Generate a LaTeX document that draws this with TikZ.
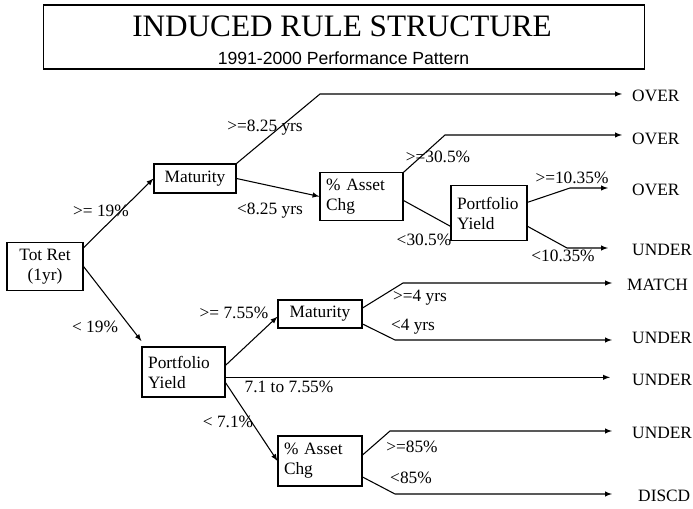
\documentclass[tikz,border=0pt]{standalone}
\usepackage{fontspec}
\setmainfont{Liberation Serif}
\setsansfont{Liberation Sans}
\usetikzlibrary{arrows, positioning, calc}

\tikzset{
  rulebox/.style={draw, line width=0.8pt, inner sep=4.5pt, align=left},
  cond/.style={inner sep=0pt},
  leaf/.style={anchor=west, inner sep=2pt},
  branch/.style={draw, line width=0.8pt, -latex},
}

\begin{document}
\begin{tikzpicture}[x=0.75pt, y=-0.75pt, font=\fontsize{13}{15}\selectfont]
\useasboundingbox (0,0) rectangle (693,509);
% title
\node [draw, line width=0.8pt, minimum width=451pt, minimum height=48pt] (titlebox) at (344,37) {};
\node [inner sep=0pt, font=\fontsize{23.4}{28}\selectfont] (head) at (342,26) {INDUCED RULE STRUCTURE};
\node [inner sep=0pt, font=\sffamily\fontsize{13.2}{15}\selectfont] (sub) at (343.5,58) {1991-2000 Performance Pattern};
% decision boxes
\node [rulebox, align=center, minimum width=57pt, minimum height=35pt] (totret) at (45,266.5) {Tot Ret\\(1yr)};
\node [rulebox, minimum width=61.5pt, minimum height=21.75pt] (mat1) at (195,178.5) {Maturity};
\node [rulebox, minimum width=62.25pt, minimum height=30.75pt, text width=53pt] (asset1) at (361.5,196.5) {\% Asset\\Chg};
\node [rulebox, minimum width=57pt, minimum height=41pt, text width=48pt] (yield1) at (489,213) {Portfolio\\Yield};
\node [rulebox, minimum width=62.25pt, minimum height=37.5pt, text width=53pt] (yield2) at (183.5,372) {Portfolio\\Yield};
\node [rulebox, minimum width=63pt, minimum height=21pt] (mat2) at (320,314) {Maturity};
\node [rulebox, minimum width=63pt, minimum height=37.5pt, text width=54pt] (asset2) at (320,461) {\% Asset\\Chg};
% outcomes
\node [leaf] (over1) at (629.3,96) {OVER};
\node [leaf] (over2) at (629.3,139) {OVER};
\node [leaf] (over3) at (629.3,190) {OVER};
\node [leaf] (under1) at (629.3,250) {UNDER};
\node [leaf] (match) at (624.3,285) {MATCH};
\node [leaf] (under2) at (629.3,338) {UNDER};
\node [leaf] (under3) at (629.3,380) {UNDER};
\node [leaf] (under4) at (629.3,433) {UNDER};
\node [leaf] (discd) at (635.3,496) {DISCD};
% bends
\coordinate (b1) at (320,94);
\coordinate (b2) at (445,135);
\coordinate (b3) at (570,188);
\coordinate (b4) at (567,248);
\coordinate (b5) at (403,283);
\coordinate (b6) at (395,340);
\coordinate (b7) at (390,431);
\coordinate (b8) at (395,494);
\coordinate (y2r) at ([yshift=-4pt]yield2.east);
% branches
\draw [branch] ([yshift=-4pt]totret.north east) -- (mat1.west);
\draw [branch] (totret.east) -- ([yshift=4pt]yield2.north west);
\draw [branch, shorten >=5.5pt] (mat1.north east) -- (b1) -- (b1 -| over1.west);
\draw [branch] (mat1.east) -- (asset1.west);
\draw [branch, shorten >=5.5pt] (asset1.north east) -- (b2) -- (b2 -| over2.west);
\draw [line width=0.8pt] ([yshift=-3pt]asset1.east) -- ([yshift=-10pt]yield1.west);
\draw [branch, shorten >=16pt] ([yshift=8pt]yield1.east) -- (b3) -- (b3 -| over3.west);
\draw [branch, shorten >=16pt] ([yshift=-10pt]yield1.east) -- (b4) -- (b4 -| under1.west);
\draw [branch] ([yshift=5pt]yield2.east) -- ([yshift=-2pt]mat2.west);
\draw [branch, shorten >=14.5pt] (y2r) -- (y2r -| under3.west);
\draw [branch] ([yshift=-8pt]yield2.east) -- (asset2.west);
\draw [branch, shorten >=9.2pt] ([yshift=4.5pt]mat2.east) -- (b5) -- (b5 -| match.west);
\draw [branch, shorten >=13pt] ([yshift=-7.5pt]mat2.east) -- (b6) -- (b6 -| under2.west);
\draw [branch, shorten >=13pt] ([yshift=4.5pt]asset2.east) -- (b7) -- (b7 -| under4.west);
\draw [branch, shorten >=17.5pt] ([yshift=-12pt]asset2.east) -- (b8) -- (b8 -| discd.west);
% conditions
\node [cond] (ge19) at (101,211) {>= 19\%};
\node [cond] (lt19) at (95,327) {< 19\%};
\node [cond] (ge825) at (265,128) {>=8.25 yrs};
\node [cond] (lt825) at (270,211) {<8.25 yrs};
\node [cond] (ge305) at (438,157) {>=30.5\%};
\node [cond] (lt305) at (424,240) {<30.5\%};
\node [cond] (ge1035) at (572,178) {>=10.35\%};
\node [cond] (lt1035) at (563,256) {<10.35\%};
\node [cond] (ge755) at (234,313) {>= 7.55\%};
\node [cond] (mid) at (289,387) {7.1 to 7.55\%};
\node [cond] (lt71) at (228,422) {< 7.1\%};
\node [cond] (ge4) at (420,298) {>=4 yrs};
\node [cond] (lt4) at (413,327) {<4 yrs};
\node [cond] (ge85) at (412,447) {>=85\%};
\node [cond] (lt85) at (411,478) {<85\%};
\end{tikzpicture}
\end{document}
